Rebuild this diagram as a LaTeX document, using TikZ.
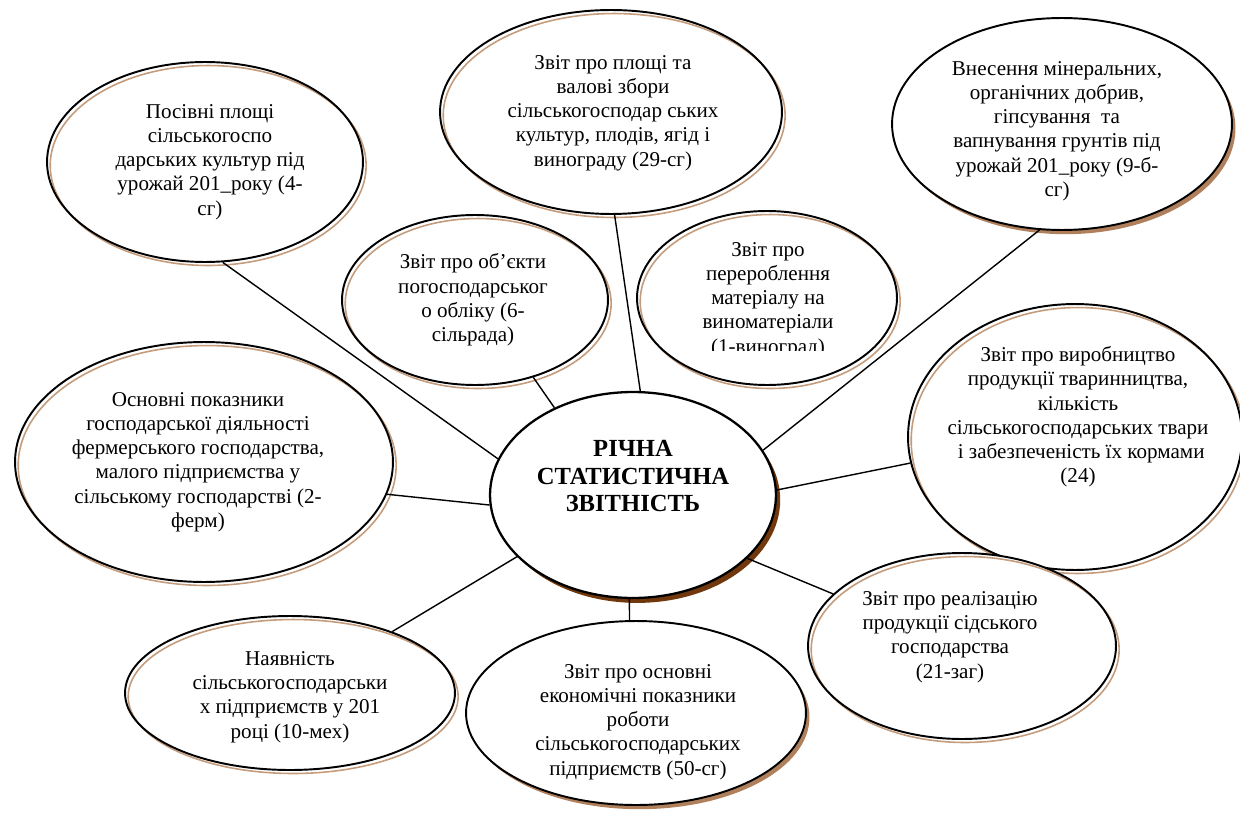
\documentclass[tikz,border=0pt]{standalone}
\usepackage{fontspec}
\setmainfont{Liberation Serif}
\usetikzlibrary{shapes.geometric, positioning}
\definecolor{tanline}{RGB}{196,156,124}
\definecolor{darkshadow}{RGB}{112,56,12}
\definecolor{lightshadow}{RGB}{176,128,92}

\begin{document}
\begin{tikzpicture}[x=0.02cm, y=-0.02cm,
  bubble/.style={ellipse, draw=black, line width=1.1pt, inner sep=0pt,
    preaction={fill=white},
    preaction={draw=tanline, line width=0.9pt, transform canvas={shift={(1.8pt,-2pt)}}}},
  shaded/.style={ellipse, draw=black, line width=1.1pt, inner sep=0pt,
    preaction={fill=lightshadow, transform canvas={shift={(2pt,-2.4pt)}}},
    preaction={fill=white}},
  hub/.style={ellipse, draw=black, line width=1.3pt, inner sep=0pt,
    preaction={fill=darkshadow, transform canvas={shift={(2.4pt,-2.8pt)}}},
    preaction={fill=white}},
  txt/.style={align=center, inner sep=0pt, font=\fontsize{12pt}{13.8pt}\selectfont},
  link/.style={line width=0.8pt}]
\useasboundingbox (0,0) rectangle (1240,814);

% outer reports
\node[bubble, minimum width=6.32cm, minimum height=4cm] (A) at (205,162) {};
\node[txt] (At) at (210,162) {Посівні площі\\сільськогоспо\\дарських культур під\\урожай 201\_року (4-\\сг)};

\node[bubble, minimum width=6.84cm, minimum height=4.08cm] (B) at (611,112) {};
\node[txt] (Bt) at (613,113) {Звіт про площі та\\валові збори\\сільськогосподар ських\\культур, плодів, ягід і\\винограду (29-сг)};

\node[shaded, minimum width=6.8cm, minimum height=4.24cm] (C) at (1062,124) {};
\node[txt] (Ct) at (1057,131) {Внесення мінеральних,\\органічних добрив,\\гіпсування\ \ та\\вапнування грунтів під\\урожай 201\_року (9-б-\\сг)};

\node[bubble, minimum width=5.32cm, minimum height=3.4cm] (D) at (475,300) {};
\node[txt] (Dt) at (473,300) {Звіт про об’єкти\\погосподарськог\\о обліку (6-\\сільрада)};

\node[bubble, minimum width=5.2cm, minimum height=3.48cm] (E) at (767,298) {};
\begin{scope}
\clip (600,200) rectangle (950,350);
\node[txt] (Et) at (768,300) {Звіт про\\перероблення\\матеріалу на\\виноматеріали\\(1-виноград)};
\end{scope}

\node[bubble, minimum width=7.56cm, minimum height=4.8cm] (G) at (204,462) {};
\node[txt] (Gt) at (198,462) {Основні показники\\господарської діяльності\\фермерського господарства,\\малого підприємства у\\сільському господарстві (2-\\ферм)};

\node[bubble, minimum width=6.68cm, minimum height=5.32cm] (H) at (1075,437) {};
\node[txt] (Ht) at (1078,417) {Звіт про виробництво\\продукції тваринництва,\\кількість\\сільськогосподарських твари\\\hspace*{0.3em}і забезпеченість їх кормами\\(24)};

\node[bubble, minimum width=6.6cm, minimum height=3.08cm] (I) at (290,693) {};
\node[txt] (It) at (290,697) {Наявність\\сільськогосподарськи\\х підприємств у 201\\році (10-мех)};

\node[shaded, minimum width=6.8cm, minimum height=3.68cm] (J) at (636,713) {};
\node[txt] (Jt) at (638,722) {Звіт про основні\\економічні показники\\роботи\\сільськогосподарських\\підприємств (50-сг)};

\node[bubble, minimum width=6.16cm, minimum height=3.72cm] (K) at (962,646) {};
\node[txt] (Kt) at (950,637) {Звіт про реалізацію\\продукції сідського\\господарства\\(21-заг)};

% centre
\node[hub, minimum width=5.72cm, minimum height=4.12cm] (F) at (633,495) {};
\node[align=center, inner sep=0pt, font=\fontsize{14pt}{15.8pt}\selectfont\bfseries] (Ft) at (633,476) {РІЧНА\\СТАТИСТИЧНА\\ЗВІТНІСТЬ};

\draw[link] (A.-80) -- (F.165);
\draw[link] (B.-88) -- (F.86);
\draw[link] (C.-102) -- (F.19);
\draw[link] (D.-53) -- (F.132);
\draw[link] (H.189) -- (F.2);
\draw[link] (G.-10) -- (F.184);
\draw[link] (I.31) -- (F.-152);
\draw[link] (J.94) -- (F.-92);
\draw[link] (K.158) -- (F.-29);
\end{tikzpicture}
\end{document}
